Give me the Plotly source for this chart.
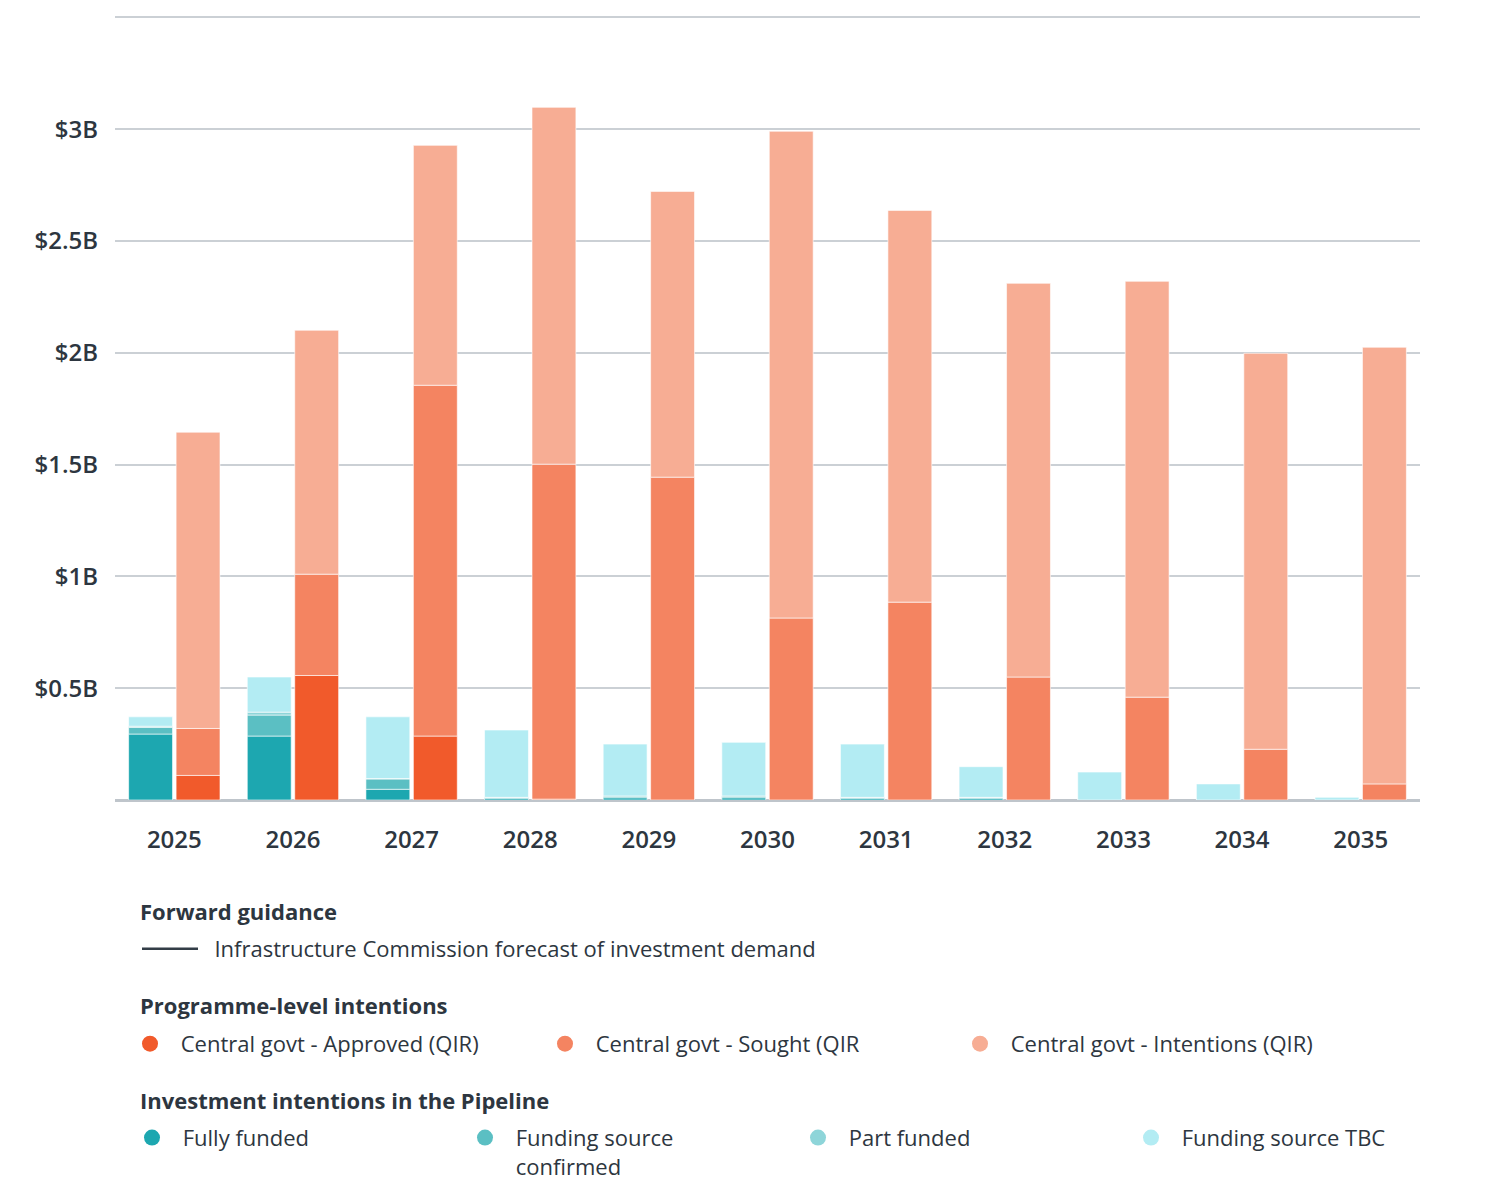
import plotly.graph_objects as go
import numpy as np

years = ["2025", "2026", "2027", "2028", "2029", "2030", "2031", "2032", "2033", "2034", "2035"]

# Investment intentions in the Pipeline ($B)
fully_funded = [0.295, 0.286, 0.048, 0.008, 0.010, 0.010, 0.008, 0.008, 0.0, 0.0, 0.0]
funding_confirmed = [0.030, 0.094, 0.046, 0.004, 0.008, 0.008, 0.004, 0.004, 0.0, 0.0, 0.0]
part_funded = [0.005, 0.013, 0.002, 0.0, 0.0, 0.0, 0.0, 0.0, 0.0, 0.0, 0.0]
funding_tbc = [0.042, 0.157, 0.276, 0.301, 0.232, 0.240, 0.238, 0.137, 0.125, 0.072, 0.012]

# Programme-level intentions ($B)
govt_approved = [0.110, 0.557, 0.286, 0.004, 0.0, 0.0, 0.0, 0.0, 0.0, 0.0, 0.0]
govt_sought = [0.210, 0.453, 1.569, 1.498, 1.444, 0.814, 0.885, 0.550, 0.460, 0.227, 0.072]
govt_intentions = [1.325, 1.091, 1.073, 1.596, 1.278, 2.177, 1.752, 1.761, 1.860, 1.771, 1.953]

y_tickvals = [0, 0.5, 1, 1.5, 2, 2.5, 3, 3.5]
y_ticktext = ["", "$0.5B", "$1B", "$1.5B", "$2B", "$2.5B", "$3B", ""]

legend_titles = ["Forward guidance", "Programme-level intentions", "Investment intentions in the Pipeline"]

TEXT = "#2D3640"
FONT = "Open Sans"
NB = "\u00a0"

left_series = [
    ("Fully funded", fully_funded, "#1DA7B0"),
    ("Funding source<br>confirmed", funding_confirmed, "#5BBFC3"),
    ("Part funded", part_funded, "#8ED5D9"),
    ("Funding source TBC", funding_tbc, "#B3ECF3"),
]
right_series = [
    ("Central govt - Approved (QIR)", govt_approved, "#F15A2B"),
    ("Central govt - Sought (QIR", govt_sought, "#F48461"),
    ("Central govt - Intentions (QIR)", govt_intentions, "#F7AD94"),
]

fig = go.Figure()

BW = 0.37
for series, off in ((left_series, -0.385), (right_series, 0.015)):
    base = np.zeros(len(years))
    for name, vals, color in series:
        v = np.array(vals, dtype=float)
        label = name.replace("<br>", " ")
        fig.add_trace(go.Bar(
            x=years, y=v, base=base.copy(), width=BW, offset=off,
            marker=dict(color=color, line=dict(color="rgba(255,255,255,0.6)", width=1)),
            name=label, showlegend=False,
            hovertemplate="%{x}: $%{y:.2f}B<extra>" + label + "</extra>",
        ))
        base = base + v

# Legend entries
fig.add_trace(go.Scatter(
    x=[None], y=[None], mode="lines", line=dict(color="#333D47", width=2.5),
    name=NB * 2 + "Infrastructure Commission forecast of investment demand", legend="legend",
))
for name, vals, color in right_series:
    fig.add_trace(go.Scatter(
        x=[None], y=[None], mode="markers", marker=dict(symbol="circle", size=16, color=color),
        name=NB + name, legend="legend2",
    ))
for name, vals, color in left_series:
    fig.add_trace(go.Scatter(
        x=[None], y=[None], mode="markers", marker=dict(symbol="circle", size=16, color=color),
        name=NB + name.replace("<br>", "<br>" + NB), legend="legend3",
    ))

# page geometry (the page body adds an 8px offset)
OFF = 8
W, H = 1492, 1191
ML = 107
PW = 1305
GW = W - ML
PX_PER_B = 783 / 3.5
Y_TOP = 3.52
PH = Y_TOP * PX_PER_B
ZERO_FIG = 800 - OFF
MB = H - ZERO_FIG
MT = H - MB - PH


def sx(px):
    return (px - OFF - ML) / GW


def sy(py):
    return (ZERO_FIG - (py - OFF)) / PH


legend_font = dict(family=FONT, size=22, color=TEXT)
title_font = dict(family=FONT, size=22, color=TEXT, weight=700)

annotations = []
for title, ty in zip(legend_titles, (911, 1005, 1100)):
    annotations.append(dict(
        text=title, xref="paper", yref="paper", x=sx(138), y=sy(ty),
        xanchor="left", yanchor="middle", showarrow=False, font=title_font,
    ))

fig.update_layout(
    width=W, height=H,
    margin=dict(l=ML, r=0, t=MT, b=MB, pad=0),
    paper_bgcolor="white", plot_bgcolor="white",
    barmode="overlay",
    font=dict(family=FONT, color=TEXT),
    annotations=annotations,
    xaxis=dict(
        type="category", domain=[0, PW / GW],
        showgrid=False, zeroline=False, showline=False,
        ticks="", ticklabelstandoff=23,
        tickfont=dict(family=FONT, size=24, color=TEXT, weight=600),
        range=[-0.5, len(years) - 0.5],
    ),
    yaxis=dict(
        range=[0, Y_TOP], tickvals=y_tickvals, ticktext=y_ticktext,
        showgrid=True, gridcolor="#CBD0D5", gridwidth=1.5,
        zeroline=True, zerolinecolor="#BFC5CB", zerolinewidth=2.5,
        ticks="", ticklabelstandoff=16,
        tickfont=dict(family=FONT, size=24, color=TEXT, weight=600),
    ),
    legend=dict(
        x=sx(137), y=sy(948 - 20), xanchor="left", yanchor="top", orientation="v",
        font=legend_font, itemwidth=56, bgcolor="rgba(0,0,0,0)",
    ),
    legend2=dict(
        x=sx(125), y=sy(1043 - 20), xanchor="left", yanchor="top", orientation="h",
        font=legend_font, itemwidth=40, entrywidth=360, entrywidthmode="pixels",
        bgcolor="rgba(0,0,0,0)",
    ),
    legend3=dict(
        x=sx(127), y=sy(1137 - 20), xanchor="left", yanchor="top", orientation="h",
        font=legend_font, itemwidth=40, entrywidth=278, entrywidthmode="pixels",
        valign="top", bgcolor="rgba(0,0,0,0)",
    ),
)

fig.write_html("out.html")
